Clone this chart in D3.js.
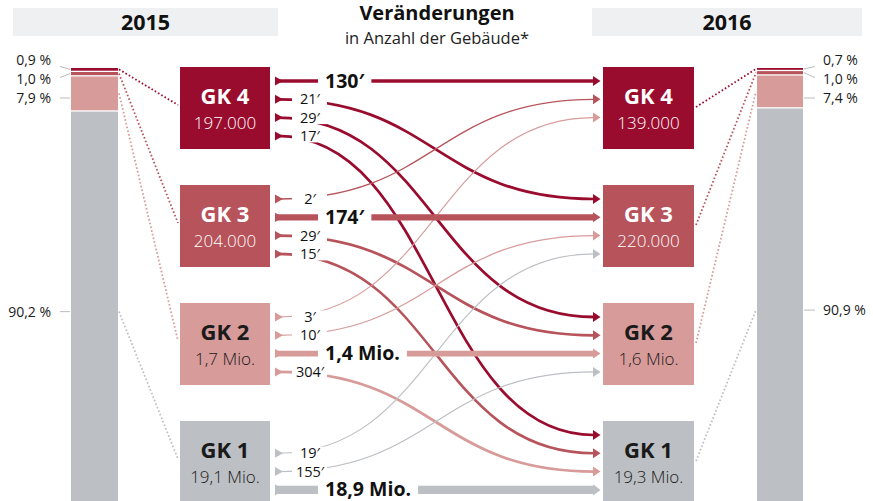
<!DOCTYPE html>
<html>
<head>
<meta charset="utf-8">
<script src="https://cdn.jsdelivr.net/npm/d3@7"></script>
<style>
  body { margin: 0; background: #fff; }
  svg { display: block; font-family: "Open Sans", "Noto Sans", sans-serif; }
</style>
</head>
<body>
<div id="chart"></div>
<script>
// Gebäudeklassen, top to bottom
const classes = ["GK 4", "GK 3", "GK 2", "GK 1"];
const share2015 = [0.9, 1.0, 7.9, 90.2];   // %
const share2016 = [0.7, 1.0, 7.4, 90.9];   // %
const count2015 = [197, 204, 1700, 19100]; // thousands of buildings
const count2016 = [139, 220, 1600, 19300];
// flows[from 2015][to 2016], thousands; null = no arrow
const flows = [
    [130, 21, 29, 17],
    [2, 174, 29, 15],
    [3, 10, 1400, 304],
    [null, 19, 155, 18900]
];

const colors = ["#9a0c2e", "#b7535b", "#d79b9a", "#bcbfc3"];
const textColors = ["#fff", "#fff", "#1a1a1a", "#1a1a1a"];

const width = 873;
const height = 501;

const de = d3.formatLocale({ decimal: ",", thousands: ".", grouping: [3], currency: ["", ""] });
const fmtInt = de.format(",");
const fmt1 = de.format(".1f");
const countLabel = v => v >= 1000 ? fmt1(v / 1000) + " Mio." : fmtInt(v * 1000);
const flowLabel = v => v >= 1000 ? fmt1(v / 1000) + " Mio." : v + "\u2032";

const svg = d3.select("#chart").append("svg")
    .attr("width", width)
    .attr("height", height);

// ---- headers
const headers = [
    { text: "2015", x: 13, w: 265 },
    { text: "2016", x: 592, w: 270 }
];
svg.selectAll(".hdr").data(headers).enter().append("rect")
    .attr("x", d => d.x).attr("y", 8).attr("width", d => d.w).attr("height", 28)
    .attr("fill", "#eff0f2");
svg.selectAll(".hdr-t").data(headers).enter().append("text")
    .attr("x", d => d.x + d.w / 2).attr("y", 29.5)
    .attr("text-anchor", "middle")
    .attr("font-size", 21.5).attr("font-weight", 700).attr("fill", "#111")
    .text(d => d.text);

svg.append("text").attr("x", 437).attr("y", 19.5).attr("text-anchor", "middle")
    .attr("font-size", 20).attr("font-weight", 700).attr("fill", "#111")
    .text("Veränderungen");
svg.append("text").attr("x", 437).attr("y", 43.5).attr("text-anchor", "middle")
    .attr("font-size", 16.5).attr("fill", "#222")
    .text("in Anzahl der Gebäude*");

// ---- scales
const yBar = d3.scaleLinear().domain([0, 100]).range([68, 513]);
const boxY = d3.scaleBand().domain(classes).range([67, 503]).paddingInner(0.305);
const rowY = (i, j) => boxY(classes[i]) + 14 + j * 18.3;

function stack(shares) {
    const c = d3.cumsum(shares);
    return shares.map((s, i) => ({ i, s, y0: yBar(c[i] - s), y1: yBar(c[i]) }));
}

// ---- stacked bars with percent labels
function drawBar(shares, x, w, side) {
    const segs = stack(shares);
    const g = svg.append("g");
    g.selectAll("rect").data(segs).enter().append("rect")
        .attr("x", x).attr("width", w)
        .attr("y", d => d.y0)
        .attr("height", d => Math.max(0.5, d.y1 - d.y0 - (d.i < 3 ? 1.3 : 0)))
        .attr("fill", d => colors[d.i]);

    // label centres for the three thin segments are spread apart
    const smallLabelY = [60, 79, 98];
    const mid = d => (d.y0 + d.y1 - 1.3) / 2;
    const labY = d => d.i < 3 ? smallLabelY[d.i] : mid(d);
    const leadLab = d => d.i === 0 ? 66.5 : d.i === 1 ? 77.5 : labY(d);
    const leadBar = d => d.i < 2 ? mid(d) : labY(d);

    const xBar = side === "left" ? x - 1 : x + w + 1;
    const xLab = side === "left" ? x - 11 : x + w + 12;

    g.selectAll("line").data(segs).enter().append("line")
        .attr("x1", xLab).attr("y1", leadLab)
        .attr("x2", xBar).attr("y2", leadBar)
        .attr("stroke", "#bbb").attr("stroke-width", 1);

    g.selectAll("text").data(segs).enter().append("text")
        .attr("x", side === "left" ? xLab - 9 : xLab + 8)
        .attr("y", d => labY(d) + 5)
        .attr("text-anchor", side === "left" ? "end" : "start")
        .attr("font-size", 14).attr("fill", "#1a1a1a")
        .text(d => fmt1(d.s) + " %");
    return segs;
}

const segs2015 = drawBar(share2015, 71, 47, "left");
const segs2016 = drawBar(share2016, 757, 46, "right");

// ---- dotted connectors bar <-> box
const dots = svg.append("g").attr("fill", "none")
    .attr("stroke-width", 1.8).attr("stroke-dasharray", "1.6 2.2");
const segMid = d => (d.y0 + d.y1 - 1.3) / 2;
dots.selectAll(".l").data(segs2015).enter().append("line")
    .attr("x1", 119).attr("y1", segMid)
    .attr("x2", 178).attr("y2", d => boxY(classes[d.i]) + 38)
    .attr("stroke", d => colors[d.i]);
dots.selectAll(".r").data(segs2016).enter().append("line")
    .attr("x1", 696).attr("y1", d => boxY(classes[d.i]) + 40)
    .attr("x2", 756).attr("y2", segMid)
    .attr("stroke", d => colors[d.i]);

// ---- class boxes
function drawBoxes(counts, x, w) {
    const g = svg.append("g");
    const data = classes.map((c, i) => ({ c, i, v: counts[i] }));
    g.selectAll("rect").data(data).enter().append("rect")
        .attr("x", x).attr("y", d => boxY(d.c))
        .attr("width", w).attr("height", boxY.bandwidth())
        .attr("fill", d => colors[d.i]);
    g.selectAll(".gk").data(data).enter().append("text")
        .attr("x", x + w / 2).attr("y", d => boxY(d.c) + 37)
        .attr("text-anchor", "middle")
        .attr("font-size", 22).attr("font-weight", 700)
        .attr("fill", d => textColors[d.i])
        .text(d => d.c);
    g.selectAll(".num").data(data).enter().append("text")
        .attr("x", x + w / 2).attr("y", d => boxY(d.c) + 62)
        .attr("text-anchor", "middle")
        .attr("font-size", 17).attr("font-weight", 300)
        .attr("fill", d => textColors[d.i])
        .text(d => countLabel(d.v));
}
drawBoxes(count2015, 180, 90);
drawBoxes(count2016, 603, 91);

// ---- flows
const flowData = [];
flows.forEach((row, i) => row.forEach((v, j) => {
    if (v == null) return;
    const share = v / count2015[i];
    flowData.push({ i, j, v, share, y1: rowY(i, j), y2: rowY(j, i), straight: i === j });
}));

const strokeW = d3.scaleLinear().domain([0, 0.08, 0.66, 1]).range([1.1, 2.7, 3.4, 8.5]).clamp(true);

const xTail = 275;
const xHead = 594;
const xTip = 600.5;

const link = d3.linkHorizontal().x(p => p[0]).y(p => p[1]);
const flowG = svg.append("g").attr("fill", "none");

flowG.selectAll(".curve").data(flowData.filter(d => !d.straight)).enter().append("path")
    .attr("d", d => link({ source: [xTail + 2, d.y1], target: [xHead, d.y2] }))
    .attr("stroke", d => colors[d.i])
    .attr("stroke-width", d => strokeW(d.share));

flowG.selectAll(".straight").data(flowData.filter(d => d.straight)).enter().append("line")
    .attr("x1", xTail + 2).attr("x2", xHead)
    .attr("y1", d => d.y1).attr("y2", d => d.y2)
    .attr("stroke", d => colors[d.i])
    .attr("stroke-width", d => strokeW(d.share));

// labels with white knock-out behind them
const labG = svg.append("g");
const labels = labG.selectAll("g").data(flowData).enter().append("g");
const bg = labels.append("rect").attr("fill", "#fff");
const txt = labels.append("text")
    .attr("x", d => d.straight ? 325 : 310)
    .attr("y", d => d.y1 + (d.straight ? 6.5 : 5))
    .attr("text-anchor", d => d.straight ? "start" : "middle")
    .attr("font-size", d => d.straight ? 19.5 : 14.5)
    .attr("font-weight", d => d.straight ? 700 : 400)
    .attr("fill", "#111")
    .text(d => flowLabel(d.v));
txt.each(function (d) { d.tw = this.getComputedTextLength(); });
bg.attr("x", d => d.straight ? 318 : 292)
    .attr("width", d => d.straight ? d.tw + 14 : 35)
    .attr("y", d => d.y1 - (d.straight ? 8 : 6.5))
    .attr("height", d => d.straight ? 16 : 13);

// tails and heads
const markG = svg.append("g");
const half = d => Math.max(4.5, strokeW(d.share) / 2 + 1.5);
markG.selectAll(".tail").data(flowData).enter().append("path")
    .attr("d", d => `M${xTail},${d.y1 - half(d)}L${xTail + 8},${d.y1}L${xTail},${d.y1 + half(d)}Z`)
    .attr("fill", d => colors[d.i]);
markG.selectAll(".head").data(flowData).enter().append("path")
    .attr("d", d => {
        const h = Math.max(5, strokeW(d.share) / 2 + 1.5);
        return `M${xHead - 1},${d.y2 - h}L${xTip},${d.y2}L${xHead - 1},${d.y2 + h}Z`;
    })
    .attr("fill", d => colors[d.i]);
</script>
</body>
</html>
